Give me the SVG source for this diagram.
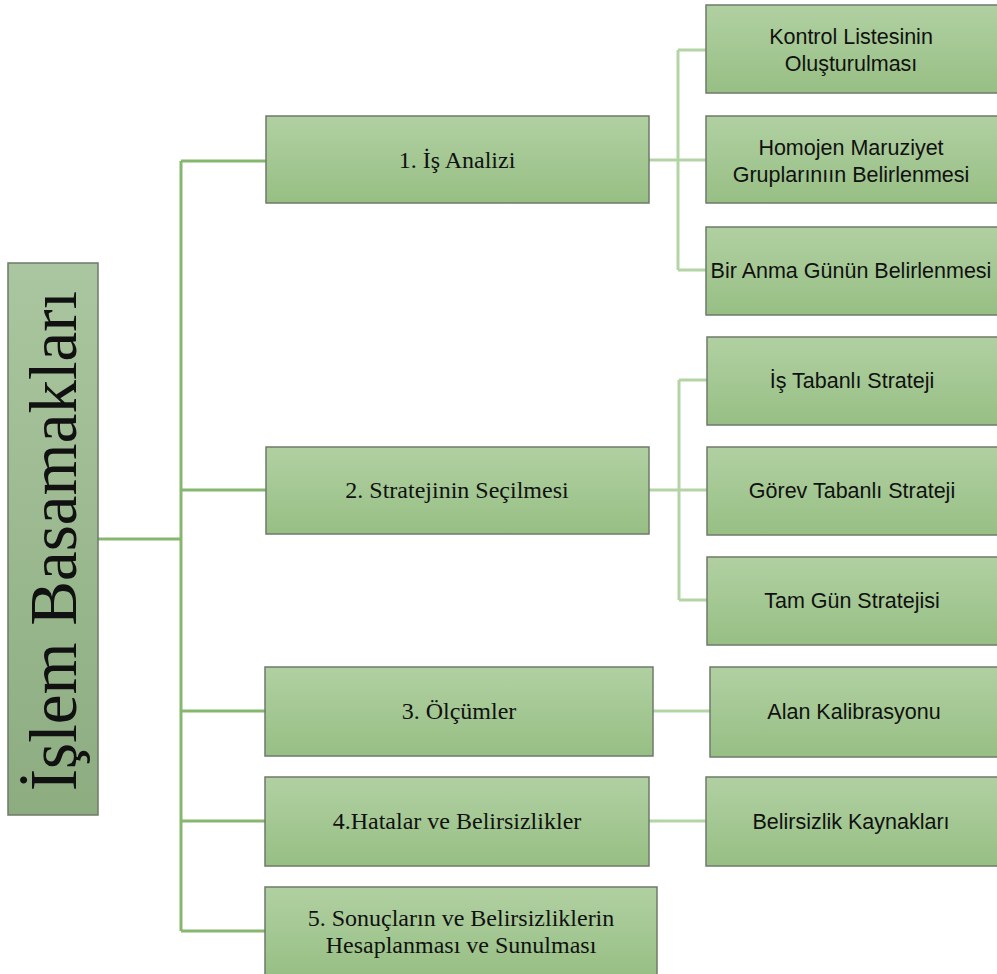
<svg xmlns="http://www.w3.org/2000/svg" width="997" height="974" viewBox="0 0 997 974">
<defs>
<linearGradient id="g" x1="0" y1="0" x2="0" y2="1">
<stop offset="0" stop-color="#b1d0a2"/>
<stop offset="1" stop-color="#97bf84"/>
</linearGradient>
<linearGradient id="gr" x1="0" y1="0" x2="0" y2="1">
<stop offset="0" stop-color="#aac6a0"/>
<stop offset="1" stop-color="#8dac80"/>
</linearGradient>
<style>
.box{fill:url(#g);stroke:#6f7a6b;stroke-width:1.5}
.root{fill:url(#gr);stroke:#6f7a6b;stroke-width:1.5}
.serif{font-family:"Liberation Serif","Times New Roman",serif;font-size:24px;fill:#111;text-anchor:middle}
.sans{font-family:"Liberation Sans",Arial,sans-serif;font-size:21.5px;fill:#111;text-anchor:middle}
.trunk{fill:none;stroke:#86b76e;stroke-width:3}
.sub{fill:none;stroke:#b5d4a6;stroke-width:3}
</style>
</defs>
<rect width="997" height="974" fill="#fff"/>
<g id="connectors">
<path class="trunk" d="M98 539H181M181 161V931M181 161H266M181 490H266M181 711H265M181 821H265M181 931H265"/>
<path class="sub" d="M649 160H706M678 50V270M678 50H706M678 270H706"/>
<path class="sub" d="M649 490H707M679 380V600M679 380H707M679 600H707"/>
<path class="sub" d="M653 711H710"/>
<path class="sub" d="M649 821H706"/>
</g>
<g id="root">
<rect class="root" x="8" y="263" width="90" height="552"/>
<text transform="translate(76 541) rotate(-90)" x="0" y="0" style="font-family:'Liberation Serif','Times New Roman',serif;font-size:67px;fill:#111;text-anchor:middle">İşlem Basamakları</text>
</g>
<g id="n1">
<rect class="box" x="266" y="116" width="383" height="87"/>
<text class="serif" x="457" y="168">1. İş Analizi</text>
</g>
<g id="n2">
<rect class="box" x="266" y="447" width="383" height="87"/>
<text class="serif" x="457" y="498">2. Stratejinin Seçilmesi</text>
</g>
<g id="n3">
<rect class="box" x="265" y="667" width="388" height="89"/>
<text class="serif" x="459" y="719">3. Ölçümler</text>
</g>
<g id="n4">
<rect class="box" x="265" y="777" width="384" height="89"/>
<text class="serif" x="457" y="829">4.Hatalar ve Belirsizlikler</text>
</g>
<g id="n5">
<rect class="box" x="265" y="887" width="392" height="90"/>
<text class="serif" x="461" y="926">5. Sonuçların ve Belirsizliklerin</text>
<text class="serif" x="461" y="953">Hesaplanması ve Sunulması</text>
</g>
<g id="n1a">
<rect class="box" x="706" y="5" width="292" height="88"/>
<text class="sans" x="851" y="44">Kontrol Listesinin</text>
<text class="sans" x="851" y="71">Oluşturulması</text>
</g>
<g id="n1b">
<rect class="box" x="706" y="116" width="292" height="87"/>
<text class="sans" x="851" y="155">Homojen Maruziyet</text>
<text class="sans" x="851" y="182">Gruplarınıın Belirlenmesi</text>
</g>
<g id="n1c">
<rect class="box" x="706" y="227" width="292" height="88"/>
<text class="sans" x="851" y="278">Bir Anma Günün Belirlenmesi</text>
</g>
<g id="n2a">
<rect class="box" x="707" y="337" width="291" height="88"/>
<text class="sans" x="852" y="388">İş Tabanlı Strateji</text>
</g>
<g id="n2b">
<rect class="box" x="707" y="447" width="291" height="88"/>
<text class="sans" x="852" y="498">Görev Tabanlı Strateji</text>
</g>
<g id="n2c">
<rect class="box" x="707" y="557" width="291" height="88"/>
<text class="sans" x="852" y="608">Tam Gün Stratejisi</text>
</g>
<g id="n3a">
<rect class="box" x="710" y="667" width="288" height="90"/>
<text class="sans" x="854" y="719">Alan Kalibrasyonu</text>
</g>
<g id="n4a">
<rect class="box" x="706" y="777" width="292" height="89"/>
<text class="sans" x="851" y="829">Belirsizlik Kaynakları</text>
</g>
</svg>
